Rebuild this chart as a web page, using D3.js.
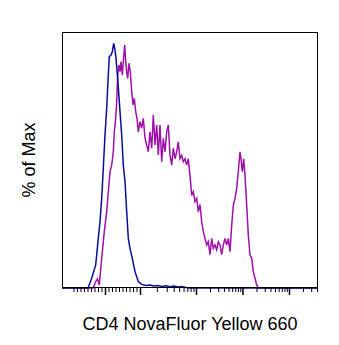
<!DOCTYPE html>
<html><head><meta charset="utf-8">
<script src="https://cdn.jsdelivr.net/npm/d3@7"></script>
<style>html,body{margin:0;padding:0;background:#fff;}svg{display:block;}</style>
</head><body>
<svg id="chart" width="339" height="345"></svg>
<script>
// Histogram data: x in display channel (0-256), y in % of plot height
const blueChannel = [0,26,29.7,33.7,36.3,38,39.7,41.3,43,44.7,46.3,47.3,49,50.3,51.7,53,54,55.7,58,59.7,61.3,63,64.7,66.3,68,70.3,73,76.3,79.7,84,88,92,96,100,104,108,112,116,120,124,128,256];
const bluePct = [0,0,3.8,9.0,19.4,25.9,35.0,46.8,59.8,70.2,83.2,90.4,91.0,92.3,95.6,93.0,89.7,81.9,68.9,59.8,48.0,41.5,29.8,19.4,15.5,11.6,6.4,2.5,1.4,1.0,1.2,0.8,1.0,0.6,0.9,0.5,0.8,0.4,0.6,0.2,0,0];
const purpleChannel = [0,31.3,33.7,35.5,37.3,39.7,42.3,44.7,46.3,48,49.7,51.3,52.3,53.7,54.7,55.7,57,58,59,60.3,61.7,62.7,63.7,64.7,65.7,67,68.3,69.7,71,72.3,73.7,75,76.3,78,79.7,81.3,83,84.7,86.3,88,89.7,91.3,93,94.7,96.3,98,99.7,101.3,103,104.7,106.3,108,109.7,111.3,113,114.7,116.3,118,119.7,121.3,123,124.7,126.3,128,129.7,131.3,133,134.7,136.3,138,139.7,141.3,143,144.7,146.3,148,149.7,151.3,153,154.7,156.3,158,159.7,161.3,163,164.7,166.3,168,169.7,171.3,173,174.7,176.3,178,179,180.3,181.7,183,184.7,186.3,188,189.7,191.3,193,194.7,196.3,256];
const purplePct = [0,0,2.5,3.5,1.2,11.6,22.0,29.8,37.6,45.4,48.0,53.2,61.0,66.3,72.8,83.2,87.1,84.5,88.4,83.2,90.4,94.9,88.4,84.5,81.9,87.8,84.5,76.7,71.5,74.1,68.9,66.3,61.0,65.0,62.4,66.3,58.5,55.9,53.2,61.0,54.6,67.6,55.9,63.7,52.0,63.7,49.3,58.5,53.2,61.0,63.7,52.0,48.0,54.6,50.5,53.2,57.1,50.5,51.8,49.3,50.5,48.0,50.5,44.0,36.2,37.6,33.7,35.0,29.8,32.6,25.9,22.0,19.4,16.8,18.1,13.0,19.4,15.5,16.8,14.9,18.1,16.8,13.0,16.8,19.4,16.8,19.4,14.2,24.5,32.3,35.0,38.9,45.4,53.2,50.5,45.4,50.5,44.0,32.3,20.7,13.0,11.6,6.4,3.8,1.2,0,0];
// Axis tick values (data units)
const majorTicks = [0, 100, 1000, 10000, 100000];
const minorTicks = [-90,-80,-70,-60,-50,-40,-30,-20,-10,10,20,30,40,50,60,70,80,90,
  200,300,400,500,600,700,800,900,2000,3000,4000,5000,6000,7000,8000,9000,
  20000,30000,40000,50000,60000,70000,80000,90000,200000,300000,400000];
const xLabel = "CD4 NovaFluor Yellow 660";
const yLabel = "% of Max";

// display transform (logicle-like) from data value to channel
function toChannel(v){
  if (v >= 1000) return 134 + 46.5*Math.log10(v/1000);
  if (v >= 100) return 78 + 56*Math.log10(v/100);
  return 43 + 0.35*v;
}

const svg = d3.select("#chart");
const L = 62, T = 32, W = 256, H = 256;
const x = d3.scaleLinear().domain([0, 256]).range([L, L+W]);
const y = d3.scaleLinear().domain([0, 100]).range([T+H, T]);

const line = d3.line().x(d=>x(d[0])).y(d=>y(d[1])).curve(d3.curveLinear);
svg.append("path").datum(purpleChannel.map((c,i)=>[c,purplePct[i]]))
  .attr("d", line).attr("fill","none").attr("stroke","#a010aa").attr("stroke-width",1.5);
svg.append("path").datum(blueChannel.map((c,i)=>[c,bluePct[i]]))
  .attr("d", line).attr("fill","none").attr("stroke","#0c0c9c").attr("stroke-width",1.5);

// frame
svg.append("rect").attr("x",L+0.5).attr("y",T+0.5).attr("width",W-1).attr("height",H-1)
  .attr("fill","none").attr("stroke","#000").attr("stroke-width",1);

function addAxis(vals, size, width){
  const ax = d3.axisBottom(x).tickValues(vals.map(toChannel)).tickSize(size).tickFormat("");
  const g = svg.append("g").attr("transform",`translate(0,${T+H})`).call(ax);
  g.select(".domain").remove();
  g.selectAll("line").attr("stroke","#000").attr("stroke-width",width);
}
addAxis(minorTicks, 4, 1);
addAxis(majorTicks, 7, 1.5);

svg.append("text").attr("x", L+W/2).attr("y", 330).attr("text-anchor","middle")
  .attr("font-family","Liberation Sans, Arial, sans-serif").attr("font-size",18).attr("fill","#000").text(xLabel);
svg.append("text").attr("transform",`translate(35,${T+H/2}) rotate(-90)`).attr("text-anchor","middle")
  .attr("font-family","Liberation Sans, Arial, sans-serif").attr("font-size",18).attr("fill","#000").text(yLabel);
</script>
</body></html>
